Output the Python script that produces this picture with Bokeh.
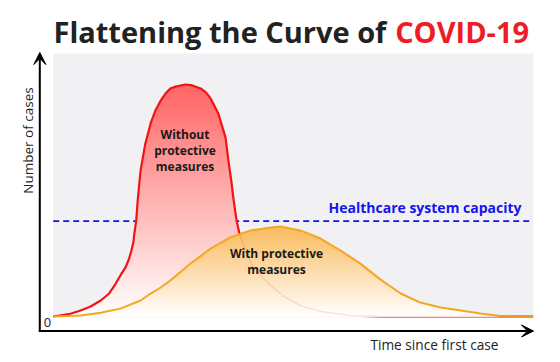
import numpy as np
from bokeh.plotting import figure
from bokeh.models import Range1d, Arrow, VeeHead
from bokeh.core.properties import value
from bokeh.embed import file_html
from bokeh.resources import INLINE

# ---- data (time since first case 0-100, number of cases 0-100) ----
red_t = [0, 3.6, 5.7, 7.8, 9.9, 11.6, 13.0, 14.0, 15.1, 15.8, 16.3, 16.7, 16.9, 17.3,
         17.6, 18.2, 19.2, 20.3, 21.3, 22.4, 23.4, 24.4, 25.5, 27.6, 29.0, 30.7, 31.8,
         32.8, 34.4, 35.9, 36.5, 37.1, 37.6, 38.2, 38.8, 40.1, 41.5, 43.2, 45.3, 48.4,
         51.5, 55.7, 61.9, 68.2, 100]
red_c = [0, 1.2, 2.6, 4.3, 6.9, 9.8, 14.1, 17.7, 21.3, 24.9, 28.4, 32.0, 35.6, 41.4,
         50.0, 62.9, 74.6, 83.2, 88.8, 93.1, 96.1, 98.3, 99.1, 100, 99.6, 98.3, 96.6,
         94.0, 87.5, 77.2, 67.2, 58.6, 50.0, 41.4, 35.8, 28.4, 22.0, 17.7, 13.4, 8.2,
         4.7, 2.2, 0.4, 0, 0]
orange_t = [0, 5.7, 9.9, 14.0, 18.2, 20.3, 22.4, 24.4, 28.6, 32.8, 36.9, 41.1, 45.3, 47.4,
            51.5, 55.7, 59.9, 64.0, 68.2, 72.4, 76.5, 80.7, 84.9, 89.0, 93.2, 100]
orange_c = [0, 0.4, 1.6, 3.4, 6.9, 9.9, 12.5, 15.5, 22.8, 29.3, 34.1, 37.1, 38.4, 38.8,
            37.1, 33.6, 28.4, 22.8, 15.9, 9.9, 6.0, 3.9, 2.6, 1.3, 0.2, 0]
capacity = 41.1
title_black = "Flattening the Curve of"
title_red = "COVID-19"
label_without = ["Without", "protective", "measures"]
label_with = ["With protective", "measures"]
capacity_label = "Healthcare system capacity"
x_label = "Time since first case"
y_label = "Number of cases"

# ---- pixel geometry ----
W, H = 560, 362
PX_T = 4.8      # px per time unit
PX_C = 2.32     # px per case unit


def tx(px):  # screen x -> t
    return (px - 52.7) / PX_T


def cy(py):  # screen y -> c
    return (316 - py) / PX_C


p = figure(width=W, height=H, output_backend="svg", toolbar_location=None, title=None,
           x_range=Range1d(tx(0), tx(W)), y_range=Range1d(cy(H), cy(0)),
           min_border=0, min_border_left=0, min_border_right=0,
           min_border_top=0, min_border_bottom=0)
p.axis.visible = False
p.grid.visible = False
p.outline_line_color = None
p.background_fill_color = "white"
p.border_fill_color = "white"

# grey plotting area
p.quad(left=[0], right=[tx(532.7)], bottom=[cy(317)], top=[cy(53)],
       fill_color="#f1f1f3", line_color=None)

# capacity line
p.line([0, tx(532.7)], [capacity, capacity], line_color="#1414ee", line_width=1.6,
       line_dash="6 4")


def gradient_fill(t, c, top_rgb, cmax, n):
    t = np.asarray(t, float)
    c = np.asarray(c, float)
    levels = np.linspace(0, cmax, n + 1)
    # cumulative layers drawn from the top down so that no seams appear
    for k in range(n - 1, -1, -1):
        lo, hi = levels[k], levels[k + 1]
        f = (lo + hi) / 2 / cmax
        r = int(round(255 + (top_rgb[0] - 255) * f))
        g = int(round(255 + (top_rgb[1] - 255) * f))
        b = int(round(255 + (top_rgb[2] - 255) * f))
        p.varea(x=t, y1=np.zeros_like(c), y2=np.minimum(c, hi), fill_color=(r, g, b))


# red (without measures)
gradient_fill(red_t, red_c, (255, 100, 100), max(red_c), 50)
p.line(red_t, red_c, line_color="#f01414", line_width=2.2)

# orange (with measures)
gradient_fill(orange_t, orange_c, (249, 186, 92), max(orange_c), 40)
p.line(orange_t, orange_c, line_color="#f5a623", line_width=2)

# faint red line showing through
rt = np.asarray(red_t)
rc = np.asarray(red_c)
m = rt >= 38.8
p.line(rt[m], rc[m], line_color="#f01414", line_width=1.5, line_alpha=0.12)

# axes arrows
p.add_layout(Arrow(end=VeeHead(size=12, fill_color="black", line_color="black"),
                   x_start=tx(39.3), y_start=cy(331), x_end=tx(39.3), y_end=cy(52),
                   line_width=2, line_color="black"))
p.add_layout(Arrow(end=VeeHead(size=12, fill_color="black", line_color="black"),
                   x_start=tx(38.3), y_start=cy(330.5), x_end=tx(533), y_end=cy(330.5),
                   line_width=2, line_color="black"))

FONT = value("Open Sans")
# title
p.text(x=[tx(53)], y=[cy(31)], text=[title_black], text_font=FONT, text_font_size="29px",
       text_font_style="bold", text_color="#222222", text_align="left",
       text_baseline="middle")
p.text(x=[tx(528.6)], y=[cy(31)], text=[title_red], text_font=FONT, text_font_size="29px",
       text_font_style="bold", text_color="#ee1c25", text_align="right",
       text_baseline="middle")

p.text(x=[tx(521)], y=[cy(207)], text=[capacity_label], text_font=FONT,
       text_font_size="14px", text_font_style="bold", text_color="#1414ee",
       text_align="right", text_baseline="middle")

p.text(x=[tx(184.5)] * 3, y=[cy(134), cy(150), cy(166)], text=label_without,
       text_font=FONT, text_font_size="12px", text_font_style="bold",
       text_color="#1a1a1a", text_align="center", text_baseline="middle")
p.text(x=[tx(276)] * 2, y=[cy(253), cy(268.5)], text=label_with,
       text_font=FONT, text_font_size="12px", text_font_style="bold",
       text_color="#1a1a1a", text_align="center", text_baseline="middle")

p.text(x=[tx(498)], y=[cy(344)], text=[x_label], text_font=FONT, text_font_size="13.7px",
       text_color="#222222", text_align="right", text_baseline="middle")
p.text(x=[tx(27.7)], y=[cy(140)], text=[y_label], text_font=FONT, text_font_size="13.5px",
       text_color="#222222", text_align="center", text_baseline="middle", angle=np.pi / 2)
p.text(x=[tx(47)], y=[cy(322)], text=["0"], text_font=FONT, text_font_size="13px",
       text_color="#222222", text_align="center", text_baseline="middle")

open("out.html", "w").write(file_html(p, INLINE))
